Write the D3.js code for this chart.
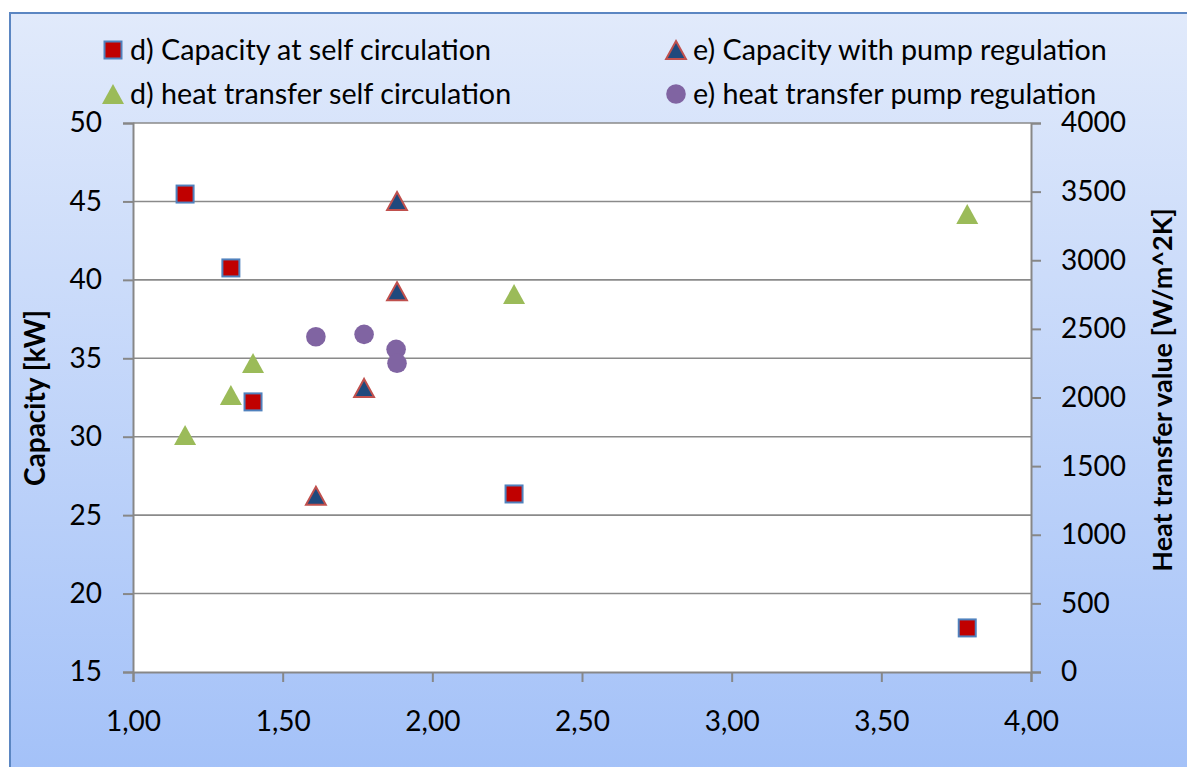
<!DOCTYPE html>
<html>
<head>
<meta charset="utf-8">
<script src="https://cdn.jsdelivr.net/npm/d3@7"></script>
<style>
  html, body { margin: 0; padding: 0; background: #ffffff; }
  svg { display: block; font-family: Lato, "Open Sans", "Liberation Sans", sans-serif; }
</style>
</head>
<body>
<svg id="chart" width="1187" height="767"></svg>
<script>
// ---- data ----
const seriesNames = [
  "d) Capacity at self circulation",
  "e) Capacity with pump regulation",
  "d) heat transfer self circulation",
  "e) heat transfer pump regulation"
];
const dX = [1.174, 1.327, 1.401, 2.273, 3.787];
const dCapacity = [45.47, 40.76, 32.22, 26.35, 17.81];
const dHeat = [1727, 2018, 2251, 2754, 3337];
const eCapX = [1.882, 1.882, 1.772, 1.611];
const eCapacity = [45.03, 39.27, 33.11, 26.23];
const eHeatX = [1.611, 1.772, 1.879, 1.882];
const eHeat = [2443, 2460, 2351, 2249];
const xTicks = [1.0, 1.5, 2.0, 2.5, 3.0, 3.5, 4.0];
const leftTicks = [15, 20, 25, 30, 35, 40, 45, 50];
const rightTicks = [0, 500, 1000, 1500, 2000, 2500, 3000, 3500, 4000];
const leftTitle = "Capacity [kW]";
const rightTitle = "Heat transfer value [W/m^2K]";

// ---- layout ----
const svg = d3.select("#chart");
const W = 1187, H = 767;
const plot = { left: 133, right: 1031, top: 123, bottom: 672 };

const defs = svg.append("defs");
const grad = defs.append("linearGradient").attr("id", "bg").attr("x1", 0).attr("y1", 0).attr("x2", 0).attr("y2", 1);
grad.append("stop").attr("offset", "0%").attr("stop-color", "#e1eafb");
grad.append("stop").attr("offset", "100%").attr("stop-color", "#a3c1f8");

svg.append("rect").attr("x", 10).attr("y", 13).attr("width", W).attr("height", H)
  .attr("fill", "url(#bg)").attr("stroke", "#5b86c2").attr("stroke-width", 2);

svg.append("rect").attr("x", plot.left).attr("y", plot.top)
  .attr("width", plot.right - plot.left).attr("height", plot.bottom - plot.top)
  .attr("fill", "#ffffff");

const x = d3.scaleLinear().domain([1, 4]).range([plot.left, plot.right]);
const yL = d3.scaleLinear().domain([15, 50]).range([plot.bottom, plot.top]);
const yR = d3.scaleLinear().domain([0, 4000]).range([plot.bottom, plot.top]);

const axisColor = "#878787";

// gridlines
svg.append("g").selectAll("line").data(leftTicks.filter(d => d !== 15)).join("line")
  .attr("x1", plot.left).attr("x2", plot.right)
  .attr("y1", d => yL(d)).attr("y2", d => yL(d))
  .attr("stroke", "#8a8a8a").attr("stroke-width", 1.6);

// axes
const fmtX = d => d3.format(".2f")(d).replace(".", ",");
const gx = svg.append("g").attr("transform", `translate(0,${plot.bottom})`)
  .call(d3.axisBottom(x).tickValues(xTicks).tickFormat(fmtX).tickSize(10).tickPadding(29));
const gl = svg.append("g").attr("transform", `translate(${plot.left},0)`)
  .call(d3.axisLeft(yL).tickValues(leftTicks).tickFormat(d3.format("d")).tickSize(10).tickPadding(21));
const gr = svg.append("g").attr("transform", `translate(${plot.right},0)`)
  .call(d3.axisRight(yR).tickValues(rightTicks).tickFormat(d3.format("d")).tickSize(10).tickPadding(20));

[gx, gl, gr].forEach(g => {
  g.select(".domain").attr("stroke", axisColor).attr("stroke-width", 2);
  g.selectAll(".tick line").attr("stroke", axisColor).attr("stroke-width", 2);
  g.selectAll(".tick text").attr("fill", "#000").style("font-size", "28px")
    .style("font-family", "Lato, 'Open Sans', sans-serif");
});
gx.selectAll(".tick text").attr("dy", "0.71em");

// axis titles
svg.append("text").attr("transform", `translate(45,398) rotate(-90)`)
  .attr("text-anchor", "middle").style("font-size", "28px").style("font-weight", "bold")
  .text(leftTitle);
svg.append("text").attr("transform", `translate(1172,390) rotate(-90)`)
  .attr("text-anchor", "middle").style("font-size", "27px").style("font-weight", "bold")
  .text(rightTitle);

// markers
const sqSize = 17, triSize = 18, circR = 9.8;
const triPath = s => `M0,${-s/2} L${s*0.55},${s/2} L${-s*0.55},${s/2} Z`;

function drawSquare(g, cx, cy) {
  g.append("rect").attr("x", cx - sqSize/2).attr("y", cy - sqSize/2)
    .attr("width", sqSize).attr("height", sqSize)
    .attr("fill", "#c00000").attr("stroke", "#4f81bd").attr("stroke-width", 2);
}
function drawNavyTri(g, cx, cy) {
  g.append("path").attr("d", triPath(triSize)).attr("transform", `translate(${cx},${cy})`)
    .attr("fill", "#1f497d").attr("stroke", "#c0504d").attr("stroke-width", 2).attr("stroke-linejoin", "miter");
}
function drawGreenTri(g, cx, cy) {
  g.append("path").attr("d", triPath(triSize + 2)).attr("transform", `translate(${cx},${cy})`)
    .attr("fill", "#9bbb59");
}
function drawCircle(g, cx, cy) {
  g.append("circle").attr("cx", cx).attr("cy", cy).attr("r", circR).attr("fill", "#8064a2");
}

const marks = svg.append("g");
dX.forEach((v, i) => drawSquare(marks, x(v), yL(dCapacity[i])));
eCapX.forEach((v, i) => drawNavyTri(marks, x(v), yL(eCapacity[i])));
dX.forEach((v, i) => drawGreenTri(marks, x(v), yR(dHeat[i])));
eHeatX.forEach((v, i) => drawCircle(marks, x(v), yR(eHeat[i])));

// legend
const legend = svg.append("g");
const legendItems = [
  { name: seriesNames[0], mx: 113, my: 50, draw: drawSquare },
  { name: seriesNames[1], mx: 676, my: 50, draw: drawNavyTri },
  { name: seriesNames[2], mx: 113, my: 94, draw: drawGreenTri },
  { name: seriesNames[3], mx: 676, my: 94, draw: drawCircle }
];
legendItems.forEach(it => {
  it.draw(legend, it.mx, it.my);
  legend.append("text").attr("x", it.mx + 17).attr("y", it.my).attr("dy", "0.36em")
    .style("font-size", "28.7px").attr("fill", "#000").text(it.name);
});
</script>
</body>
</html>
